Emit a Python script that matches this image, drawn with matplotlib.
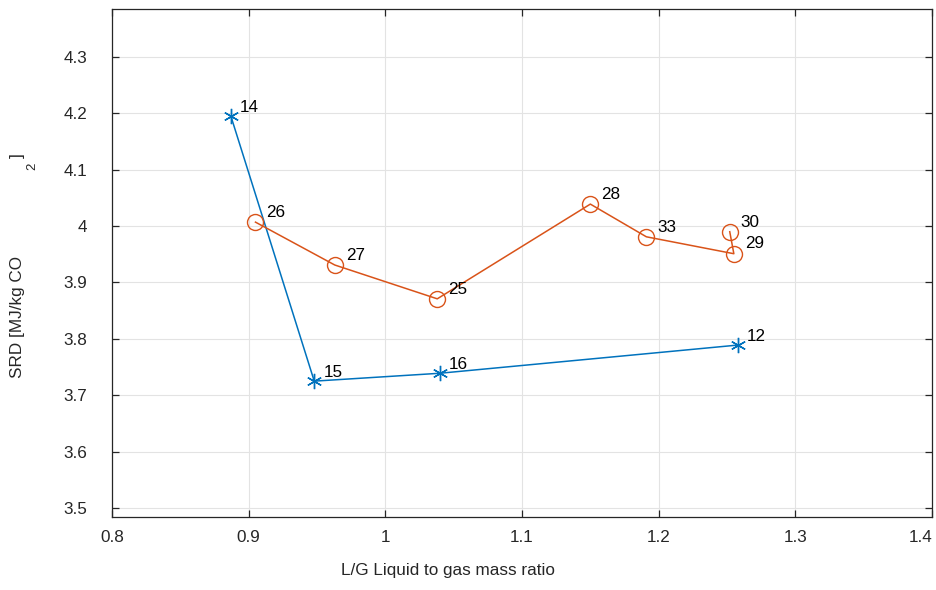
import numpy as np
import matplotlib.pyplot as plt
from matplotlib.ticker import FormatStrFormatter

plt.rcParams['font.family'] = ['Liberation Sans', 'DejaVu Sans']

# absorber runs, blue series (asterisks)
run_a = ['14', '15', '16', '12']
lg_a = [0.887, 0.948, 1.040, 1.258]
srd_a = [4.195, 3.725, 3.739, 3.789]

# orange series (circles)
run_b = ['26', '27', '25', '28', '33', '29', '30']
lg_b = [0.905, 0.963, 1.038, 1.150, 1.191, 1.255, 1.252]
srd_b = [4.007, 3.931, 3.871, 4.039, 3.981, 3.951, 3.990]

x_ticks = [0.8, 0.9, 1.0, 1.1, 1.2, 1.3, 1.4]
x_ticklabels = ['0.8', '0.9', '1', '1.1', '1.2', '1.3', '1.4']

blue = '#0072BD'
orange = '#D95319'
axcol = '#262626'
fs = 12.3

fig = plt.figure(figsize=(9.37, 5.9), dpi=100)
ax = fig.add_axes([0.1195, 0.1237, 0.8752, 0.861])

ax.plot(lg_a, srd_a, color=blue, lw=1.1, marker=(6, 2, 0), ms=11, mew=1.0)
ax.plot(lg_b, srd_b, color=orange, lw=1.1, marker='o', ms=11.5, mfc='none', mew=1.0)

for x, y, s in zip(lg_a, srd_a, run_a):
    ax.annotate(s, (x, y), xytext=(6.5, 6), textcoords='offset points',
                ha='left', va='center', fontsize=fs, color='black')
for x, y, s in zip(lg_b, srd_b, run_b):
    ax.annotate(s, (x, y), xytext=(8, 7), textcoords='offset points',
                ha='left', va='center', fontsize=fs, color='black')

ax.set_xlim(0.8, 1.4)
ax.set_ylim(3.484, 4.385)
ax.set_xticks(x_ticks, x_ticklabels)
ax.set_yticks(np.arange(3.5, 4.31, 0.1))
ax.yaxis.set_major_formatter(FormatStrFormatter('%g'))

ax.grid(True, color='#e3e3e3', lw=0.8)
ax.set_axisbelow(True)
for sp in ax.spines.values():
    sp.set_color(axcol)
    sp.set_linewidth(0.9)
ax.tick_params(direction='in', length=5, width=0.9, colors=axcol,
               labelsize=fs, top=True, right=True)
ax.tick_params(axis='y', pad=18)
ax.tick_params(axis='x', pad=9)

# last x label pulled inside like MATLAB does
ax.xaxis.get_major_ticks()[-1].label1.set_horizontalalignment('right')

fig.text(0.478, 0.02, 'L/G Liquid to gas mass ratio', ha='center', va='bottom',
         fontsize=fs, color=axcol)
# MATLAB-style broken subscript in the y label
fig.text(0.019, 0.463, 'SRD [MJ/kg CO', rotation=90, ha='center', va='center',
         fontsize=fs, color=axcol)
fig.text(0.034, 0.718, '2', rotation=90, ha='center', va='center',
         fontsize=9.5, color=axcol)
fig.text(0.019, 0.736, ']', rotation=90, ha='center', va='center',
         fontsize=fs, color=axcol)

fig.savefig('out.png', dpi=100)
